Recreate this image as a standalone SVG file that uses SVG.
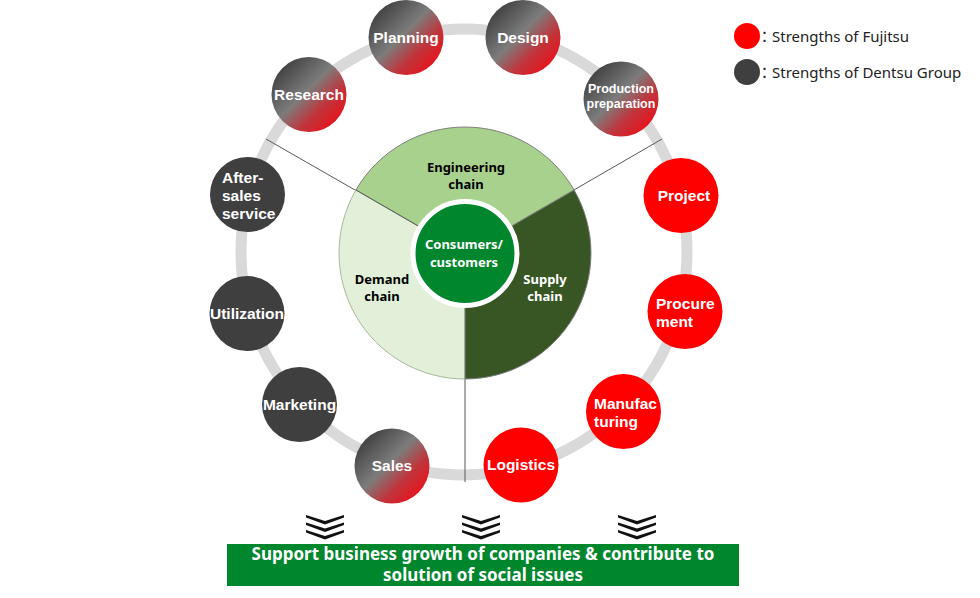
<svg xmlns="http://www.w3.org/2000/svg" width="980" height="598" viewBox="0 0 980 598">
<defs>
<linearGradient id="gr" x1="0.1" y1="0.1" x2="0.9" y2="0.9">
<stop offset="0" stop-color="#3c3c3c"/>
<stop offset="0.45" stop-color="#7c7c7c"/>
<stop offset="0.72" stop-color="#c1343b"/>
<stop offset="1" stop-color="#ec0f18"/>
</linearGradient>
<polygon id="chev" points="-19,0 0,6 19,0 19,2.5 0,9.5 -19,2.5"/>
</defs>
<style>
.nt{font-family:"Liberation Sans",Arial,sans-serif;font-weight:bold;font-size:15.5px;fill:#fff;}
.sm{font-size:12.5px;}
.pl{font-family:"Noto Sans","Liberation Sans",sans-serif;font-weight:bold;font-size:13px;text-anchor:middle;}
.lg{font-family:"Noto Sans","Noto Sans CJK JP",sans-serif;font-size:15px;fill:#222;}
.mid{text-anchor:middle;}
.red{fill:#ff0000;}
.dk{fill:#3f3f3f;}
.grd{fill:url(#gr);}
.ln{stroke:#595959;stroke-width:1;fill:none;}
</style>
<rect width="980" height="598" fill="#fff"/>
<!-- ring -->
<circle cx="464" cy="252" r="223" fill="none" stroke="#d9d9d9" stroke-width="11"/>
<!-- connectors -->
<g id="connectors">
<line class="ln" x1="465" y1="253" x2="266" y2="139"/>
<line class="ln" x1="465" y1="253" x2="662" y2="139"/>
<line class="ln" x1="465" y1="253" x2="465" y2="482"/>
</g>
<!-- pie -->
<g id="pie">
<path id="engineering" d="M465,253 L355.9,190 A126,126 0 0 1 574.1,190 Z" fill="#a9d18e" stroke="#7f7f7f" stroke-width="1"/>
<path id="demand" d="M465,253 L465,379 A126,126 0 0 1 355.9,190 Z" fill="#e2f0d9" stroke="#a6b89a" stroke-width="1"/>
<path id="supply" d="M465,253 L574.1,190 A126,126 0 0 1 465,379 Z" fill="#375623" stroke="#7f7f7f" stroke-width="1"/>
<line class="ln" x1="465" y1="253" x2="355.9" y2="190"/>
<text class="pl" x="466" y="172">Engineering</text>
<text class="pl" x="466" y="189">chain</text>
<text class="pl" x="382" y="284">Demand</text>
<text class="pl" x="382" y="301">chain</text>
<text class="pl" x="545" y="284" fill="#fff">Supply</text>
<text class="pl" x="545" y="301" fill="#fff">chain</text>
</g>
<g id="center">
<circle cx="465" cy="253.5" r="52" fill="#00862d" stroke="#fff" stroke-width="5"/>
<text class="pl" x="464" y="249" fill="#fff">Consumers/</text>
<text class="pl" x="464" y="267" fill="#fff">customers</text>
</g>
<!-- nodes -->
<g id="planning"><circle class="grd" cx="406" cy="37.5" r="37.5"/><text class="nt mid" x="406" y="43">Planning</text></g>
<g id="design"><circle class="grd" cx="523" cy="37.5" r="37.5"/><text class="nt mid" x="523" y="43">Design</text></g>
<g id="production"><circle class="grd" cx="621" cy="99" r="37.5"/><text class="nt sm mid" x="621" y="93">Production</text><text class="nt sm mid" x="621" y="108">preparation</text></g>
<g id="research"><circle class="grd" cx="309" cy="94.5" r="37.5"/><text class="nt mid" x="309" y="100">Research</text></g>
<g id="project"><circle class="red" cx="681" cy="195.5" r="37.5"/><text class="nt mid" x="684" y="201">Project</text></g>
<g id="procurement"><circle class="red" cx="685" cy="311.5" r="37.5"/><text class="nt" x="656" y="309">Procure</text><text class="nt" x="656" y="327">ment</text></g>
<g id="manufacturing"><circle class="red" cx="623.5" cy="411.5" r="37.5"/><text class="nt" x="594" y="409">Manufac</text><text class="nt" x="594" y="427">turing</text></g>
<g id="logistics"><circle class="red" cx="521" cy="465" r="37.5"/><text class="nt mid" x="521" y="470">Logistics</text></g>
<g id="sales"><circle class="grd" cx="392" cy="466" r="37.5"/><text class="nt mid" x="392" y="471">Sales</text></g>
<g id="marketing"><circle class="dk" cx="299.5" cy="404.5" r="37.5"/><text class="nt mid" x="299.5" y="410">Marketing</text></g>
<g id="utilization"><circle class="dk" cx="247" cy="313.5" r="37.5"/><text class="nt mid" x="247" y="319">Utilization</text></g>
<g id="aftersales"><circle class="dk" cx="247.5" cy="194.5" r="37.5"/><text class="nt" x="222" y="183">After-</text><text class="nt" x="222" y="201">sales</text><text class="nt" x="222" y="219">service</text></g>
<!-- legend -->
<g id="legend">
<circle cx="747" cy="36" r="13" fill="#ff0000"/>
<text class="lg" x="757" y="42">：Strengths of Fujitsu</text>
<circle cx="747" cy="72" r="13" fill="#3f3f3f"/>
<text class="lg" x="757" y="78">：Strengths of Dentsu Group</text>
</g>
<!-- chevrons -->
<g id="chevrons" fill="#111">
<use href="#chev" x="325" y="515"/><use href="#chev" x="325" y="522.5"/><use href="#chev" x="325" y="530"/>
<use href="#chev" x="481" y="515"/><use href="#chev" x="481" y="522.5"/><use href="#chev" x="481" y="530"/>
<use href="#chev" x="637" y="515"/><use href="#chev" x="637" y="522.5"/><use href="#chev" x="637" y="530"/>
</g>
<!-- banner -->
<g id="banner">
<rect x="227" y="544" width="512" height="42" fill="#00862d"/>
<text class="pl" x="483" y="560" fill="#fff" style="font-size:17px">Support business growth of companies &amp; contribute to</text>
<text class="pl" x="483" y="581" fill="#fff" style="font-size:17px">solution of social issues</text>
</g>
</svg>
